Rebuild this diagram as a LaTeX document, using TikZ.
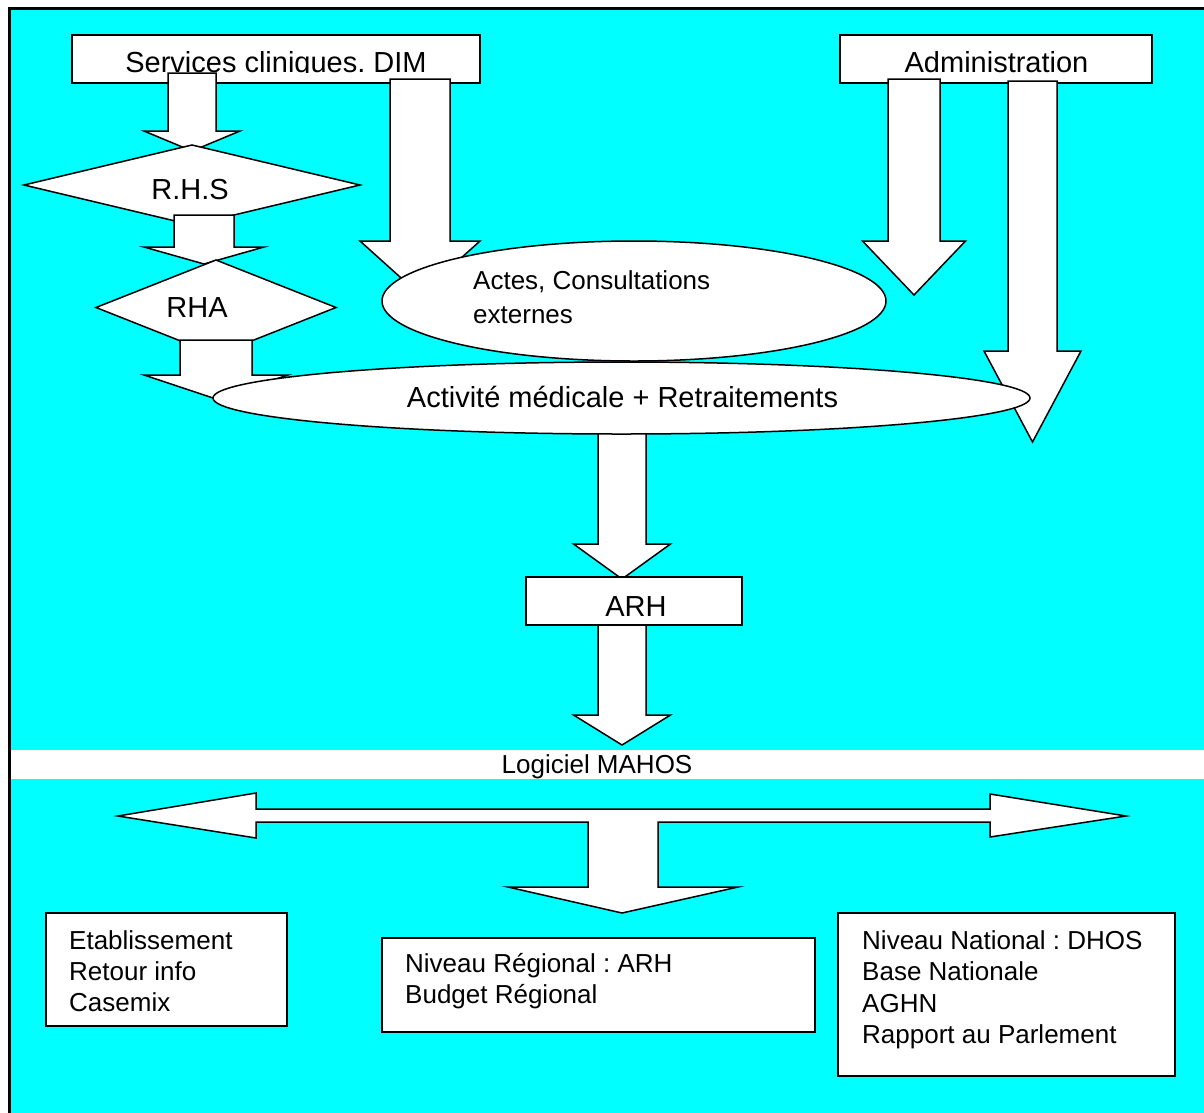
\documentclass[tikz,border=0pt]{standalone}
\usepackage{fontspec}
\setmainfont{Liberation Sans}
\usetikzlibrary{shapes.geometric}
\definecolor{aqua}{HTML}{00FFFF}
\frenchspacing
\tikzset{
  blk/.style={draw=black, fill=white, line width=1.5pt, line join=miter},
  panel/.style={rectangle, draw=black, fill=white, line width=1.5pt, inner sep=0pt, outer sep=0pt, anchor=north west},
  rhomb/.style={diamond, draw=black, fill=white, line width=1.5pt, inner sep=0pt, outer sep=0pt},
  oval/.style={ellipse, draw=black, fill=white, line width=1.5pt, inner sep=0pt, outer sep=0pt},
  bigtext/.style={font=\fontsize{29}{34}\selectfont, inner sep=0pt, anchor=base},
  smalltext/.style={font=\fontsize{26}{31}\selectfont, inner sep=0pt, align=left, anchor=north west},
}
% wide downward block arrow: x, top, head base, tip, shaft half-width, head half-width
\newcommand\blkdown[6]{%
  \draw[blk] (#1-#5,#2) -- (#1+#5,#2) -- (#1+#5,#3) -- (#1+#6,#3) -- (#1,#4)
    -- (#1-#6,#3) -- (#1-#5,#3) -- cycle;}

\begin{document}
\begin{tikzpicture}[x=1pt,y=-1pt]
\useasboundingbox (0,0) rectangle (1204,1112);
\fill[white] (0,0) rectangle (1204,1112);
% framed cyan backdrop
\draw[line width=2.6pt, fill=aqua] (9.5,8.5) rectangle (1240,1150);
% white band for the software label
\fill[white] (10.8,750) rectangle (1204,779);
\node[font=\fontsize{26}{31}\selectfont, inner sep=0pt, anchor=base] (mahos) at (597,773) {Logiciel MAHOS};

% sources
\node[panel, minimum width=408pt, minimum height=48pt] (svc) at (72,35) {};
\node[panel, minimum width=312pt, minimum height=48pt] (adm) at (840,35) {};
\begin{scope}
  \clip (72,35) rectangle (1152,72.6);
  \node[bigtext] (svctext) at (276,72.4) {Services cliniques. DIM};
  \node[bigtext] (admtext) at (996.5,72.4) {Administration};
\end{scope}

% hospital stays chain
\blkdown{192}{73}{131}{151}{24}{48}
\node[rhomb, minimum width=336pt, minimum height=80pt] (rhs) at (192,185) {};
\node[bigtext] (rhstext) at (190,199) {R.H.S};
\blkdown{204}{215}{247}{264}{30}{60}
\node[rhomb, minimum width=240pt, minimum height=95pt] (rha) at (216,307.5) {};
\node[bigtext] (rhatext) at (197,317) {RHA};
\blkdown{216}{340}{375}{399}{36}{72}

% other flows
\blkdown{420}{79}{241}{295}{30}{60}
\blkdown{914}{79}{241}{295}{26}{51.5}
\blkdown{1032.5}{81}{351}{442}{24.5}{48.5}
\blkdown{622}{420}{544}{579}{24}{48.5}

% activity
\node[oval, minimum width=817pt, minimum height=72pt] (act) at (621.5,398) {};
\node[bigtext] (acttext) at (622.5,407) {Activité médicale + Retraitements};
\node[oval, minimum width=504pt, minimum height=120pt] (actes) at (634,301) {};
\node[smalltext, font=\fontsize{26}{34}\selectfont] (actestext) at (473,270) {Actes, Consultations\\externes};

% regional agency
\node[panel, minimum width=216pt, minimum height=48pt] (arh) at (526,577) {};
\node[bigtext] (arhtext) at (636,616) {ARH};
\blkdown{622}{625}{715}{745}{24}{48.5}

% distribution arrow
\draw[blk] (118,816) -- (256,793) -- (256,809) -- (990,809) -- (990,794) -- (1126,816)
  -- (990,837) -- (990,822) -- (658,822) -- (658,887) -- (738,887) -- (622,913)
  -- (508,887) -- (588,887) -- (588,822) -- (256,822) -- (256,838) -- cycle;

% recipients
\node[panel, minimum width=241pt, minimum height=113pt] (etab) at (46,913) {};
\node[smalltext] (etabtext) at (69,930) {Etablissement\\Retour info\\Casemix};
\node[panel, minimum width=433pt, minimum height=94pt] (reg) at (382,938) {};
\node[smalltext] (regtext) at (405,953) {Niveau Régional : ARH\\Budget Régional};
\node[panel, minimum width=337pt, minimum height=163pt] (nat) at (838,913) {};
\node[smalltext, font=\fontsize{26}{31.6}\selectfont] (nattext) at (862,930) {Niveau National : DHOS\\Base Nationale\\AGHN\\Rapport au Parlement};
\end{tikzpicture}
\end{document}
